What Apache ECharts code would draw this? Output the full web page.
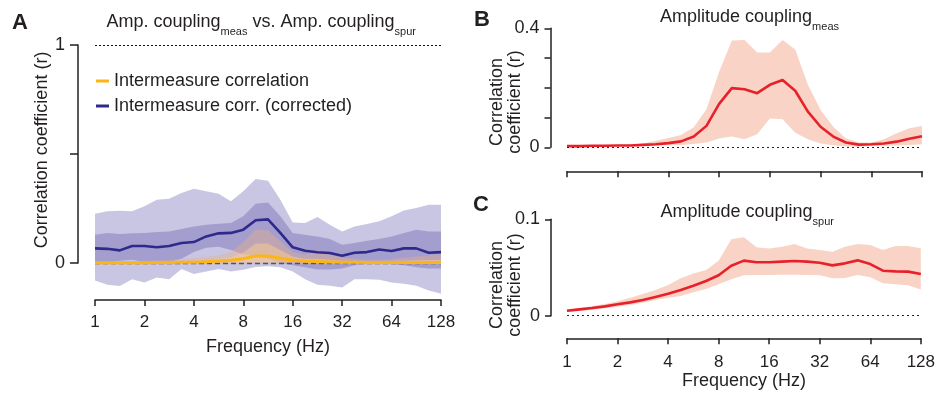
<!DOCTYPE html>
<html>
<head>
<meta charset="utf-8">
<script src="https://cdn.jsdelivr.net/npm/echarts@6/dist/echarts.min.js"></script>
<style>
html, body { margin: 0; padding: 0; background: #fff; }
#chart { width: 938px; height: 393px; }
</style>
</head>
<body>
<div id="chart"></div>
<script>
// Frequencies in quarter-octave steps (Hz)
const freqLabels = ['1','1.19','1.41','1.68','2','2.38','2.83','3.36','4','4.76','5.66','6.73','8','9.51','11.31','13.45','16','19.03','22.63','26.91','32','38.05','45.25','53.82','64','76.11','90.51','107.63','128'];

// Panel A: intermeasure correlation (raw)
const corrMedian    = [0.001,0.001,0.001,0.001,0.001,0.002,0.002,0.003,0.004,0.006,0.009,0.013,0.020,0.032,0.032,0.022,0.013,0.009,0.007,0.005,0.003,0.003,0.002,0.002,0.002,0.002,0.002,0.002,0.002];
const corrOuterHigh = [0.004,0.005,0.006,0.007,0.008,0.011,0.014,0.018,0.022,0.028,0.036,0.050,0.095,0.155,0.150,0.100,0.050,0.038,0.060,0.040,0.025,0.020,0.015,0.015,0.018,0.024,0.030,0.035,0.040];
const corrOuterLow  = [-0.006,-0.006,-0.006,-0.006,-0.006,-0.006,-0.006,-0.006,-0.006,-0.006,-0.005,-0.004,-0.003,-0.002,-0.002,-0.003,-0.005,-0.006,-0.006,-0.006,-0.006,-0.006,-0.006,-0.006,-0.006,-0.006,-0.006,-0.006,-0.006];
const corrInnerHigh = [0.003,0.003,0.003,0.004,0.004,0.005,0.006,0.008,0.010,0.013,0.018,0.025,0.048,0.090,0.090,0.060,0.030,0.020,0.020,0.015,0.010,0.009,0.008,0.008,0.009,0.011,0.013,0.014,0.015];
const corrInnerLow  = [-0.002,-0.002,-0.002,-0.002,-0.002,-0.002,-0.002,-0.001,-0.001,0.000,0.001,0.002,0.003,0.004,0.004,0.003,0.002,0.001,0.000,-0.001,-0.001,-0.002,-0.002,-0.002,-0.002,-0.002,-0.002,-0.002,-0.002];

// Panel A: intermeasure correlation (corrected)
const corrCorrMedian    = [0.067,0.065,0.058,0.078,0.078,0.072,0.078,0.092,0.096,0.122,0.136,0.138,0.153,0.196,0.200,0.138,0.072,0.056,0.049,0.046,0.033,0.047,0.050,0.062,0.055,0.067,0.067,0.047,0.050];
const corrCorrOuterHigh = [0.226,0.237,0.240,0.237,0.260,0.290,0.295,0.321,0.341,0.329,0.318,0.283,0.329,0.385,0.377,0.290,0.186,0.183,0.211,0.176,0.145,0.168,0.179,0.191,0.214,0.241,0.252,0.267,0.267];
const corrCorrOuterLow  = [-0.080,-0.100,-0.106,-0.074,-0.090,-0.066,-0.075,-0.028,-0.051,-0.039,-0.028,-0.039,-0.031,-0.018,-0.015,-0.020,-0.039,-0.074,-0.100,-0.104,-0.112,-0.074,-0.074,-0.077,-0.089,-0.095,-0.104,-0.126,-0.141];
const corrCorrInnerHigh = [0.130,0.138,0.133,0.136,0.138,0.142,0.145,0.156,0.168,0.176,0.180,0.183,0.214,0.272,0.278,0.214,0.138,0.130,0.122,0.110,0.084,0.092,0.102,0.110,0.122,0.138,0.153,0.145,0.145];
const corrCorrInnerLow  = [0.000,0.000,0.010,0.015,0.005,0.000,0.005,0.020,0.050,0.070,0.075,0.060,0.040,0.030,0.020,0.000,-0.010,-0.020,-0.030,-0.030,-0.025,-0.010,0.000,0.000,-0.005,-0.010,-0.020,-0.025,-0.025];

// Panel B: amplitude coupling (measured)
const measMedian = [0.004,0.004,0.005,0.005,0.006,0.006,0.008,0.010,0.014,0.020,0.036,0.072,0.146,0.199,0.195,0.182,0.210,0.226,0.190,0.120,0.069,0.036,0.016,0.009,0.010,0.013,0.019,0.029,0.037];
const measHigh   = [0.006,0.006,0.007,0.007,0.008,0.009,0.013,0.022,0.031,0.041,0.067,0.128,0.254,0.359,0.361,0.319,0.319,0.361,0.329,0.210,0.125,0.069,0.030,0.016,0.016,0.027,0.047,0.064,0.072];
const measLow    = [0.002,0.002,0.003,0.003,0.004,0.004,0.005,0.006,0.007,0.008,0.011,0.016,0.030,0.036,0.027,0.044,0.097,0.094,0.049,0.027,0.013,0.007,0.003,0.003,0.004,0.005,0.006,0.008,0.010];

// Panel C: amplitude coupling (spurious)
const spurMedian = [0.0052,0.0066,0.0080,0.0097,0.0118,0.0138,0.0163,0.0194,0.0228,0.0266,0.0311,0.0360,0.0419,0.0519,0.0571,0.0554,0.0554,0.0561,0.0567,0.0561,0.0550,0.0522,0.0543,0.0574,0.0536,0.0467,0.0460,0.0457,0.0433];
const spurHigh   = [0.0066,0.0080,0.0100,0.0121,0.0149,0.0187,0.0225,0.0266,0.0318,0.0388,0.0439,0.0474,0.0571,0.0792,0.0813,0.0709,0.0696,0.0716,0.0744,0.0696,0.0682,0.0664,0.0716,0.0744,0.0734,0.0682,0.0723,0.0723,0.0699];
const spurLow    = [0.0038,0.0048,0.0062,0.0076,0.0093,0.0111,0.0135,0.0163,0.0187,0.0204,0.0242,0.0277,0.0325,0.0377,0.0419,0.0422,0.0422,0.0426,0.0426,0.0422,0.0419,0.0388,0.0391,0.0422,0.0398,0.0336,0.0325,0.0315,0.0273];

// Labelled y ticks per panel
const yLabelsA = [0, 1];
const yLabelsB = [0, 0.4];
const yLabelsC = [0, 0.1];

const FONT = 'Liberation Sans, Arial, Helvetica, sans-serif';
const INK = '#231f20';

const chart = echarts.init(document.getElementById('chart'), null, { renderer: 'canvas' });

function labelFormatter(list) {
  return function (v) {
    return list.some(function (t) { return Math.abs(t - v) < 1e-9; }) ? String(v) : '';
  };
}

// Shaded band between two bounds, built as a stacked pair
function band(id, gridIdx, low, high, color, z) {
  const common = {
    type: 'line', xAxisIndex: gridIdx, yAxisIndex: gridIdx,
    stack: id, stackStrategy: 'all', symbol: 'none', silent: true,
    clip: false, z: z, lineStyle: { opacity: 0, width: 0 }
  };
  return [
    Object.assign({}, common, { name: id + '-low', data: low.slice() }),
    Object.assign({}, common, {
      name: id + '-span',
      data: high.map(function (h, i) { return +(h - low[i]).toFixed(5); }),
      areaStyle: { color: color, opacity: 1 }
    })
  ];
}

function line(name, gridIdx, values, color, width, z, extra) {
  return Object.assign({
    name: name, type: 'line', xAxisIndex: gridIdx, yAxisIndex: gridIdx,
    data: values.slice(), symbol: 'none', clip: false, z: z, silent: true,
    itemStyle: { color: color },
    lineStyle: { color: color, width: width, join: 'round' }
  }, extra || {});
}

function xAxis(gridIdx, offset, showLabels, margin, nameGap) {
  return {
    type: 'category', gridIndex: gridIdx, data: freqLabels, boundaryGap: false,
    offset: offset,
    axisLine: { show: true, onZero: false, lineStyle: { color: INK, width: 1.5 } },
    axisTick: { show: true, interval: 3, length: 6, lineStyle: { color: INK, width: 1.5 } },
    axisLabel: { show: showLabels, interval: 3, margin: margin, fontSize: 17, color: INK, fontFamily: FONT },
    splitLine: { show: false },
    name: showLabels ? 'Frequency (Hz)' : '',
    nameLocation: 'middle', nameGap: nameGap,
    nameTextStyle: { fontSize: 18, color: INK, fontFamily: FONT }
  };
}

function yAxis(gridIdx, max, interval, offset, labels, tickLen, margin) {
  return {
    type: 'value', gridIndex: gridIdx, min: 0, max: max, interval: interval,
    offset: offset,
    axisLine: { show: true, onZero: false, lineStyle: { color: INK, width: 1.5 } },
    axisTick: { show: true, length: tickLen, lineStyle: { color: INK, width: 1.5 } },
    axisLabel: { show: true, formatter: labelFormatter(labels), margin: margin, fontSize: 18, color: INK, fontFamily: FONT },
    splitLine: { show: false }
  };
}

// Reference lines at r = 0 (under the raw curve) and r = 1
const zeroLineA = {
  silent: true, symbol: 'none', label: { show: false }, z: 3,
  data: [
    { yAxis: 0, lineStyle: { color: '#555', type: [5, 3], width: 1.3 } },
    { yAxis: 1, lineStyle: { color: '#111', type: [2, 2], width: 1.2 } }
  ]
};
const zeroLineBC = {
  silent: true, symbol: 'none', label: { show: false },
  data: [{ yAxis: 0, lineStyle: { color: '#222', type: [2, 3], width: 1.2 } }]
};

const subRich = {
  m: { fontSize: 18, lineHeight: 30, fontFamily: FONT, fill: INK, color: INK },
  s: { fontSize: 11, lineHeight: 12, verticalAlign: 'bottom', fontFamily: FONT, fill: INK, color: INK }
};

function txt(x, y, text, opts) {
  return {
    type: 'text', x: x, y: y, rotation: (opts && opts.rotation) || 0, silent: true,
    style: Object.assign({
      text: text, fill: INK, fontFamily: FONT, fontSize: 18,
      align: 'left', verticalAlign: 'middle'
    }, (opts && opts.style) || {})
  };
}

const series = []
  .concat(band('cc-outer', 0, corrCorrOuterLow, corrCorrOuterHigh, '#c9c6e3', 1))
  .concat(band('cc-inner', 0, corrCorrInnerLow, corrCorrInnerHigh, '#a49ecf', 1))
  .concat(band('c-outer', 0, corrOuterLow, corrOuterHigh, 'rgba(232,172,135,0.40)', 2))
  .concat(band('c-inner', 0, corrInnerLow, corrInnerHigh, 'rgba(252,206,145,0.50)', 2))
  .concat([
    line('Intermeasure corr. (corrected)', 0, corrCorrMedian, '#2e2a8c', 2.6, 3, { markLine: zeroLineA }),
    line('Intermeasure correlation', 0, corrMedian, '#fbb616', 3, 4)
  ])
  .concat(band('meas', 1, measLow, measHigh, '#f9d4c6', 1))
  .concat([line('Amplitude coupling meas', 1, measMedian, '#e8202a', 2.6, 3, { markLine: zeroLineBC })])
  .concat(band('spur', 2, spurLow, spurHigh, '#f9d4c6', 1))
  .concat([line('Amplitude coupling spur', 2, spurMedian, '#e8202a', 2.6, 3, { markLine: zeroLineBC })]);

const option = {
  animation: false,
  backgroundColor: '#fff',
  textStyle: { fontFamily: FONT, color: INK },
  grid: [
    { left: 95, top: 45, width: 346, height: 218 },
    { left: 567, top: 28.3, width: 355, height: 119 },
    { left: 567, top: 219.3, width: 355, height: 96.4 }
  ],
  xAxis: [xAxis(0, 37, true, 14, 38), xAxis(1, 24, false, 14, 30), xAxis(2, 22.6, true, 16, 33)],
  yAxis: [
    yAxis(0, 1, 0.5, 17, yLabelsA, 8, 13),
    yAxis(1, 0.4, 0.1, 16.5, yLabelsB, 6, 11),
    yAxis(2, 0.1, 0.1, 16, yLabelsC, 6, 11)
  ],
  legend: {
    data: ['Intermeasure correlation', 'Intermeasure corr. (corrected)'],
    orient: 'vertical', left: 96, top: 72, padding: 0, icon: 'rect',
    itemWidth: 13, itemHeight: 3, itemGap: 7,
    textStyle: { fontSize: 18, color: INK, fontFamily: FONT },
    selectedMode: false
  },
  graphic: [
    txt(12, 23, 'A', { style: { fontSize: 22, fontWeight: 'bold' } }),
    txt(474, 19.5, 'B', { style: { fontSize: 22, fontWeight: 'bold' } }),
    txt(473, 205, 'C', { style: { fontSize: 22, fontWeight: 'bold' } }),
    txt(106.5, 22.5, '{m|Amp. coupling}{s|meas}{m| vs. Amp. coupling}{s|spur}', { style: { rich: subRich } }),
    txt(660, 17.5, '{m|Amplitude coupling}{s|meas}', { style: { rich: subRich } }),
    txt(660.5, 212, '{m|Amplitude coupling}{s|spur}', { style: { rich: subRich } }),
    txt(42, 150, 'Correlation coefficient (r)', { rotation: Math.PI / 2, style: { align: 'center' } }),
    txt(506, 102, 'Correlation\ncoefficient (r)', { rotation: Math.PI / 2, style: { align: 'center', lineHeight: 18 } }),
    txt(506, 285, 'Correlation\ncoefficient (r)', { rotation: Math.PI / 2, style: { align: 'center', lineHeight: 18 } })
  ],
  series: series
};

chart.setOption(option);
</script>
</body>
</html>
